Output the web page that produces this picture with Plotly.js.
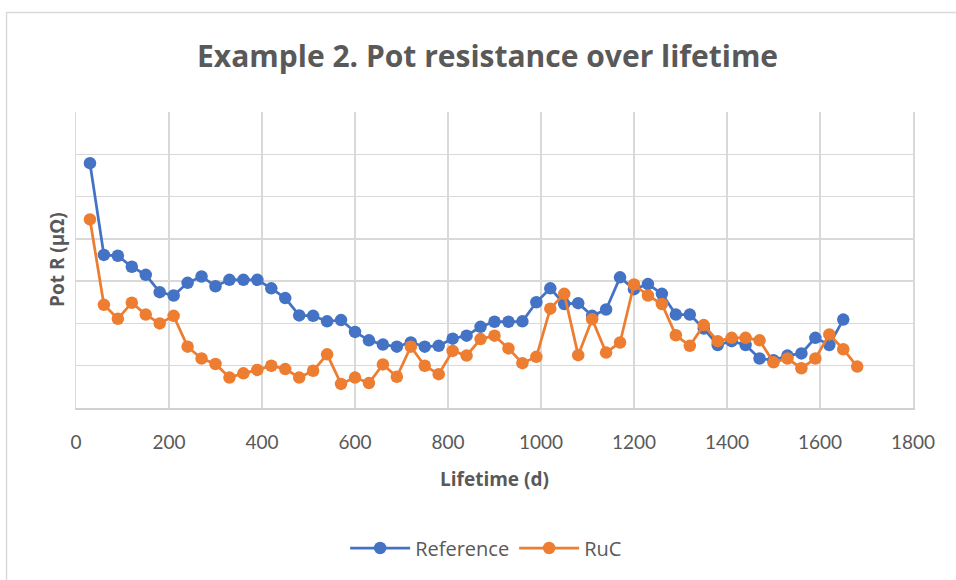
<!DOCTYPE html>
<html>
<head>
<meta charset="utf-8">
<script src="https://cdn.plot.ly/plotly-3.0.1.min.js"></script>
<style>html,body{margin:0;padding:0;background:#fff;}#chart{width:956px;height:580px;}</style>
</head>
<body>
<div id="chart"></div>
<script>
const refDays = [30,60,90,120,150,180,210,240,270,300,330,360,390,420,450,480,510,540,570,600,
  630,660,690,720,750,780,810,840,870,900,930,960,990,1020,1050,1080,1110,1140,1170,1200,
  1230,1260,1290,1320,1350,1380,1410,1440,1470,1500,1530,1560,1590,1620,1650];
const refValues = [5.79,3.62,3.60,3.34,3.15,2.74,2.66,2.96,3.11,2.88,3.03,3.03,3.03,2.83,2.60,2.19,2.18,2.05,2.08,1.80,
  1.60,1.50,1.45,1.55,1.45,1.47,1.64,1.71,1.92,2.04,2.04,2.05,2.50,2.83,2.46,2.48,2.18,2.33,3.09,2.81,
  2.93,2.70,2.21,2.21,1.88,1.49,1.58,1.49,1.17,1.13,1.24,1.29,1.66,1.49,2.09];
const rucDays = [30,60,90,120,150,180,210,240,270,300,330,360,390,420,450,480,510,540,570,600,
  630,660,690,720,750,780,810,840,870,900,930,960,990,1020,1050,1080,1110,1140,1170,1200,
  1230,1260,1290,1320,1350,1380,1410,1440,1470,1500,1530,1560,1590,1620,1650,1680];
const rucValues = [4.46,2.44,2.11,2.49,2.21,2.00,2.18,1.45,1.17,1.04,0.72,0.82,0.90,1.00,0.92,0.72,0.88,1.27,0.57,0.72,
  0.59,1.03,0.74,1.45,1.00,0.80,1.35,1.24,1.63,1.71,1.41,1.06,1.21,2.35,2.70,1.25,2.10,1.31,1.55,2.92,
  2.66,2.46,1.72,1.47,1.96,1.58,1.66,1.66,1.60,1.08,1.17,0.94,1.17,1.74,1.39,0.98];
const xTicks = [0,200,400,600,800,1000,1200,1400,1600,1800];

const traces = [
  {x: refDays, y: refValues, name: 'Reference', type: 'scatter', mode: 'lines+markers',
   line: {color: '#4472C4', width: 2.75}, marker: {color: '#4472C4', size: 12.5}},
  {x: rucDays, y: rucValues, name: 'RuC', type: 'scatter', mode: 'lines+markers',
   line: {color: '#ED7D31', width: 2.75}, marker: {color: '#ED7D31', size: 12.5}}
];

const layout = {
  width: 956, height: 580,
  margin: {l: 76, r: 43, t: 112, b: 170},
  paper_bgcolor: '#ffffff', plot_bgcolor: '#ffffff',
  font: {family: '"Open Sans", Lato, sans-serif', color: '#595959'},
  title: {text: '<b>Example 2. Pot resistance over lifetime</b>', x: 0.51, xanchor: 'center', y: 0.902, yanchor: 'middle',
          font: {family: '"Open Sans", sans-serif', size: 30, color: '#595959'}},
  xaxis: {range: [0, 1800], tickvals: xTicks, ticktext: xTicks.map(String), showgrid: true, gridcolor: '#d9d9d9', gridwidth: 1.5,
          showline: true, linecolor: '#d0d0d0', linewidth: 1.5, zeroline: false, ticks: '',
          tickfont: {family: 'Lato, sans-serif', size: 19, color: '#595959'}, ticklabelstandoff: 17,
          title: {text: '<b>Lifetime (d)</b>', font: {family: '"Open Sans", sans-serif', size: 19, color: '#595959'}, standoff: 20}},
  yaxis: {range: [0, 7], dtick: 1, showticklabels: false, showgrid: true, gridcolor: '#d9d9d9', gridwidth: 1.5,
          showline: true, linecolor: '#d9d9d9', linewidth: 1.5, zeroline: false, ticks: '', mirror: true},
  showlegend: true,
  legend: {orientation: 'h', x: 0.49, xanchor: 'center', y: -0.473, yanchor: 'middle', itemwidth: 60,
           font: {family: '"Open Sans", sans-serif', size: 20, color: '#595959'}, traceorder: 'normal'},
  annotations: [
    {text: '<b>Pot R (μΩ)</b>', xref: 'paper', yref: 'paper', x: -0.0227, y: 0.5, textangle: -90, showarrow: false,
     xanchor: 'center', yanchor: 'middle', font: {family: '"Open Sans", sans-serif', size: 19, color: '#595959'}}
  ],
  shapes: [
    {type: 'rect', xref: 'paper', yref: 'paper', x0: -0.083, x1: 1.2, y0: -1.0, y1: 1.336,
     line: {color: '#d9d9d9', width: 1.5}, fillcolor: 'rgba(0,0,0,0)', layer: 'below'}
  ]
};

Plotly.newPlot('chart', traces, layout, {displayModeBar: false, staticPlot: true});
</script>
</body>
</html>
